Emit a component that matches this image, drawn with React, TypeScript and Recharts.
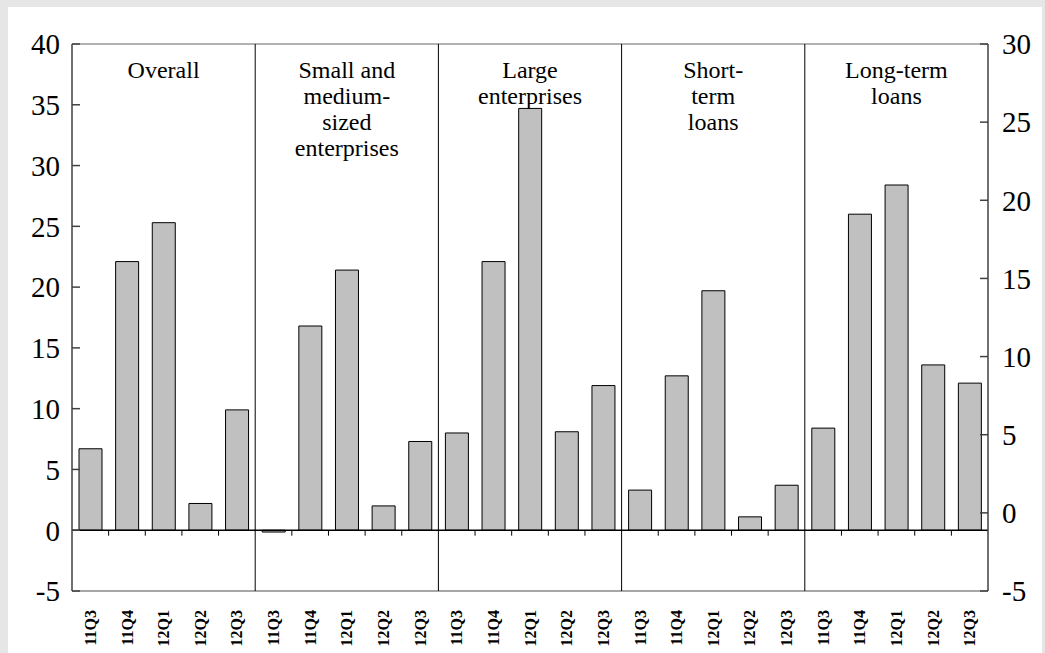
import React from 'react';
import { BarChart, Bar, XAxis, YAxis, ReferenceLine, ReferenceArea } from 'recharts';

const quarters = ['11Q3', '11Q4', '12Q1', '12Q2', '12Q3'];
const panelLabels = [
  ['Overall'],
  ['Small and', 'medium-', 'sized', 'enterprises'],
  ['Large', 'enterprises'],
  ['Short-', 'term', 'loans'],
  ['Long-term', 'loans'],
];
const overall = [6.7, 22.1, 25.3, 2.2, 9.9];
const smallMedium = [-0.15, 16.8, 21.4, 2.0, 7.3];
const large = [8.0, 22.1, 34.7, 8.1, 11.9];
const shortTerm = [3.3, 12.7, 19.7, 1.1, 3.7];
const longTerm = [8.4, 26.0, 28.4, 13.6, 12.1];
const leftTicks = [-5, 0, 5, 10, 15, 20, 25, 30, 35, 40];
const rightTicks = [-5, 0, 5, 10, 15, 20, 25, 30];

const panels = [overall, smallMedium, large, shortTerm, longTerm];
const data = panels.flatMap((vals, p) =>
  vals.map((v, i) => ({ key: `${p}-${i}`, q: quarters[i], value: v, pos: p * 5 + i + 0.5 }))
);
const dividers = [5, 10, 15, 20];
const smallTicks = Array.from({ length: 24 }, (_, i) => i + 1).filter((i) => i % 5 !== 0);

const FONT = "'Liberation Serif', 'Times New Roman', Times, serif";
const W = 1034;
const H = 646;

const XTick = (props: any) => {
  const { x, y, payload, index } = props;
  const label = data[index] ? data[index].q : payload.value;
  const ty = y + 11;
  return (
    <text
      x={x}
      y={ty}
      transform={`rotate(-90, ${x}, ${ty})`}
      textAnchor="end"
      dy="0.35em"
      style={{ fontFamily: FONT, fontWeight: 'bold', fontSize: 16 }}
      fill="#000"
    >
      {label}
    </text>
  );
};

const PanelLabel = (lines: string[]) => (props: any) => {
  const vb = props.viewBox || {};
  const cx = vb.x + vb.width / 2;
  const top = vb.y + 34;
  return (
    <text x={cx} y={top} textAnchor="middle" style={{ fontFamily: FONT, fontSize: 24 }} fill="#000">
      {lines.map((l, i) => (
        <tspan key={i} x={cx} y={top + i * 26}>
          {l}
        </tspan>
      ))}
    </text>
  );
};

export default function App() {
  return (
    <div style={{ position: 'fixed', left: 0, top: 0, width: 1045, height: 653, background: '#e6e6e6', fontFamily: FONT }}>
      <div style={{ position: 'absolute', left: 8, top: 7, width: W, height: H, background: '#fff' }}>
        <BarChart
          width={W}
          height={H}
          data={data}
          margin={{ top: 37, right: 0, bottom: 0, left: 0 }}
          barSize={23}
          style={{ fontFamily: FONT }}
        >
          <XAxis
            dataKey="key"
            xAxisId="cat"
            axisLine={false}
            tickLine={false}
            interval={0}
            height={62}
            tick={<XTick />}
          />
          <XAxis xAxisId="num" type="number" dataKey="pos" domain={[0, 25]} hide allowDataOverflow />
          <YAxis
            yAxisId="left"
            orientation="left"
            width={64}
            domain={[-5, 40]}
            ticks={leftTicks}
            interval={0}
            allowDataOverflow
            tickSize={-8}
            tickMargin={20}
            axisLine={{ stroke: '#404040', strokeWidth: 1.5 }}
            tickLine={{ stroke: '#404040', strokeWidth: 1.5 }}
            tick={{ fontSize: 29, fill: '#000', style: { fontFamily: FONT, fontSize: 29 } }}
          />
          <YAxis
            yAxisId="right"
            orientation="right"
            width={54}
            domain={[-5, 30]}
            ticks={rightTicks}
            interval={0}
            allowDataOverflow
            tickSize={-8}
            tickMargin={22}
            axisLine={{ stroke: '#404040', strokeWidth: 1.5 }}
            tickLine={{ stroke: '#404040', strokeWidth: 1.5 }}
            tick={{ fontSize: 29, fill: '#000', textAnchor: 'start', style: { fontFamily: FONT, fontSize: 29 } }}
          />
          <ReferenceLine yAxisId="left" xAxisId="num" y={40} stroke="#999" strokeWidth={1.5} />
          <ReferenceLine yAxisId="left" xAxisId="num" y={-5} stroke="#888" strokeWidth={1.5} />
          {panelLabels.map((lines, p) => (
            <ReferenceArea
              key={`area-${p}`}
              yAxisId="left"
              xAxisId="num"
              x1={p * 5}
              x2={p * 5 + 5}
              y1={-5}
              y2={40}
              fill="#fff"
              fillOpacity={0}
              stroke="none"
              label={PanelLabel(lines)}
            />
          ))}
          <Bar
            dataKey="value"
            xAxisId="cat"
            yAxisId="left"
            fill="#c0c0c0"
            stroke="#000"
            strokeWidth={1}
            isAnimationActive={false}
          />
          <ReferenceLine yAxisId="left" xAxisId="num" y={0} stroke="#000" strokeWidth={1.5} />
          {smallTicks.map((t) => (
            <ReferenceLine
              key={`t-${t}`}
              yAxisId="left"
              xAxisId="num"
              segment={[
                { x: t, y: 0 },
                { x: t, y: -0.45 },
              ]}
              stroke="#000"
              strokeWidth={1}
            />
          ))}
          {dividers.map((d) => (
            <ReferenceLine key={`d-${d}`} yAxisId="left" xAxisId="num" x={d} stroke="#000" strokeWidth={1} />
          ))}
        </BarChart>
      </div>
    </div>
  );
}
